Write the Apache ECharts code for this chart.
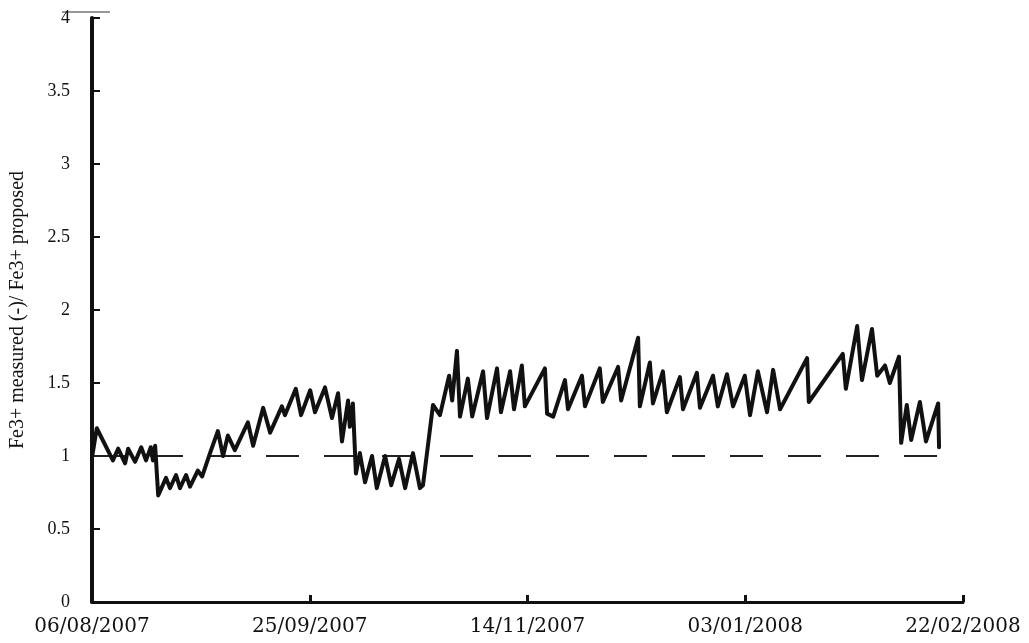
<!DOCTYPE html>
<html>
<head>
<meta charset="utf-8">
<title>Fe3+ measured / proposed</title>
<script src="https://cdn.jsdelivr.net/npm/echarts@6/dist/echarts.min.js"></script>
<style>
  html, body { margin: 0; padding: 0; background: #ffffff; }
  #chart { width: 1029px; height: 643px; }
</style>
</head>
<body>
<div id="chart"></div>
<script>
// Days elapsed since 06/08/2007 for each measurement
const days = [
  0.0, 1.1, 4.8, 6.0, 7.6, 8.3, 9.9, 11.3, 12.4, 13.5, 14.0, 14.5, 15.2,
  17.0, 17.9, 19.3, 20.2, 21.6, 22.5, 24.3, 25.3, 27.1, 28.9, 30.1, 31.2,
  32.8, 35.8, 37.0, 39.3, 40.9, 43.6, 44.3, 46.8, 48.0, 50.1, 51.2, 53.5, 55.1, 56.5,
  57.4, 58.8, 59.2, 59.9, 60.6, 61.5, 62.7, 64.3, 65.4, 67.3, 68.7, 70.5,
  71.9, 73.7, 75.3, 76.0, 78.3, 79.9, 82.0, 82.7, 83.8, 84.5, 86.3, 87.3,
  89.8, 90.7, 93.0, 93.9, 96.0, 96.9, 98.7, 99.4, 104.0, 104.5, 105.9,
  108.6, 109.3, 112.5, 113.2, 116.6, 117.3, 120.8, 121.5, 125.4, 125.8,
  128.1, 128.8, 131.1, 132.0, 135.0, 135.7, 138.9, 139.6, 142.6, 143.7,
  145.8, 147.2, 149.9, 151.1, 152.9, 155.0, 156.4, 158.0, 164.2, 164.6,
  172.4, 173.1, 175.7, 176.8, 179.1, 180.3, 182.1, 183.2, 185.3, 185.8,
  187.1, 188.1, 190.1, 191.5, 194.3, 194.5
];

// Ratio Fe3+ measured / Fe3+ proposed
const ratio = [
  0.99, 1.19, 0.97, 1.05, 0.95, 1.05, 0.96, 1.06, 0.97, 1.06, 0.97, 1.07, 0.73,
  0.85, 0.78, 0.87, 0.78, 0.87, 0.79, 0.90, 0.86, 1.02, 1.17, 1.00, 1.14,
  1.04, 1.23, 1.07, 1.33, 1.16, 1.34, 1.28, 1.46, 1.28, 1.45, 1.30, 1.47, 1.26, 1.43,
  1.10, 1.38, 1.20, 1.36, 0.88, 1.02, 0.82, 1.00, 0.78, 1.00, 0.80, 0.98,
  0.78, 1.02, 0.78, 0.80, 1.35, 1.28, 1.55, 1.38, 1.72, 1.27, 1.53, 1.27,
  1.58, 1.26, 1.60, 1.30, 1.58, 1.32, 1.62, 1.34, 1.60, 1.29, 1.27,
  1.52, 1.32, 1.55, 1.34, 1.60, 1.37, 1.61, 1.38, 1.81, 1.34,
  1.64, 1.36, 1.58, 1.30, 1.54, 1.32, 1.57, 1.33, 1.55, 1.34,
  1.56, 1.34, 1.55, 1.28, 1.58, 1.30, 1.59, 1.32, 1.67, 1.37,
  1.70, 1.46, 1.89, 1.52, 1.87, 1.55, 1.62, 1.50, 1.68, 1.09,
  1.35, 1.11, 1.37, 1.10, 1.36, 1.06
];

// Target ratio line (measured = proposed)
const targetDays = [0, 198];
const targetRatio = [1, 1];

// Date labels placed every 50 days along the horizontal axis
const tickDays = [0, 50, 100, 150, 200];
const tickLabels = ['06/08/2007', '25/09/2007', '14/11/2007', '03/01/2008', '22/02/2008'];

const measured = days.map((d, i) => [d, ratio[i]]);
const target = targetDays.map((d, i) => [d, targetRatio[i]]);

const chart = echarts.init(document.getElementById('chart'), null, { renderer: 'canvas' });

chart.setOption({
  backgroundColor: '#ffffff',
  animation: false,
  grid: { left: 90, right: 66, top: 18, bottom: 41, containLabel: false },
  xAxis: {
    type: 'value',
    min: 0,
    max: 200,
    interval: 50,
    axisLine: { show: true, onZero: false, lineStyle: { color: '#111', width: 3 } },
    axisTick: { show: true, inside: true, length: 7, lineStyle: { color: '#111', width: 3 } },
    splitLine: { show: false },
    axisLabel: {
      margin: 15,
      color: '#111',
      fontFamily: 'DejaVu Serif',
      fontSize: 20,
      formatter: function (v) {
        const i = tickDays.indexOf(v);
        return i >= 0 ? tickLabels[i] : '';
      }
    }
  },
  yAxis: {
    type: 'value',
    min: 0,
    max: 4,
    interval: 0.5,
    name: 'Fe3+ measured (-)/ Fe3+ proposed',
    nameLocation: 'middle',
    nameGap: 64,
    nameTextStyle: { color: '#111', fontFamily: 'Liberation Serif', fontSize: 20 },
    axisLine: { show: true, onZero: false, lineStyle: { color: '#111', width: 4 } },
    axisTick: { show: true, inside: true, length: 8, lineStyle: { color: '#111', width: 2 } },
    splitLine: { show: false },
    axisLabel: {
      margin: 22,
      color: '#111',
      fontFamily: 'Liberation Serif',
      fontSize: 18
    }
  },
  graphic: [
    {
      type: 'line',
      shape: { x1: 62, y1: 12, x2: 110, y2: 12 },
      style: { stroke: '#333', lineWidth: 1 }
    }
  ],
  series: [
    {
      name: 'target',
      type: 'line',
      data: target,
      symbol: 'none',
      z: 1,
      lineStyle: { color: '#222', width: 2, type: [33, 25] }
    },
    {
      name: 'measured',
      type: 'line',
      data: measured,
      symbol: 'none',
      z: 2,
      lineStyle: { color: '#111', width: 4, join: 'round', cap: 'round' }
    }
  ]
});
</script>
</body>
</html>
